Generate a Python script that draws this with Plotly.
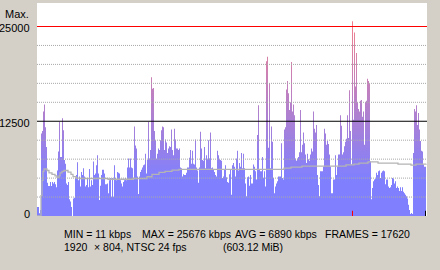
import plotly.graph_objects as go

# bitrate per display column (kbps)
bitrate = [
    1200, 1200, 350, 800, 10900, 11200, 13800, 14700, 11700, 9100,
    4400, 3950, 3950, 4500, 3950, 4500, 4300, 4500, 4200, 3800,
    6000, 8500, 12400, 7800, 7800, 12900, 11300, 7400, 6900, 4300,
    4100, 4500, 2200, 1900, 1200, 11, 2300, 2400, 5000, 5400,
    7100, 4700, 5200, 3900, 5800, 5400, 6300, 5200, 3900, 4100,
    5000, 3800, 6200, 3900, 4700, 4100, 7200, 5400, 5600, 6700,
    8000, 5600, 2100, 4000, 5400, 6100, 6100, 5600, 4200, 4200,
    4300, 3000, 4700, 5000, 2500, 5000, 2500, 6700, 5000, 4700,
    5800, 5700, 5600, 4700, 4300, 3900, 4500, 4700, 5000, 4700,
    6400, 7600, 6400, 7600, 6400, 6300, 4800, 11800, 9300, 8900,
    5200, 2900, 5200, 5800, 6100, 6400, 6700, 6800, 8200, 5600,
    7400, 12400, 7600, 8700, 18300, 16800, 16900, 11200, 10000, 7600,
    8200, 8900, 8700, 10000, 11300, 11800, 11700, 8700, 10100, 9700,
    8300, 8900, 9200, 9100, 11400, 8700, 8000, 11500, 10100, 8900,
    8900, 8700, 8900, 6400, 6300, 5200, 5500, 5400, 5400, 5700,
    6400, 6400, 7700, 8700, 6900, 8600, 6900, 6800, 10100, 6400,
    6000, 4400, 6400, 11100, 8900, 7400, 7300, 9100, 6300, 8000,
    7500, 10000, 7600, 11000, 6300, 6400, 6100, 5800, 5400, 5200,
    8600, 8000, 7500, 7400, 7300, 5000, 5200, 6100, 6700, 5100,
    4500, 4400, 5500, 6100, 2800, 6700, 7000, 6500, 5200, 7600,
    8600, 6000, 7000, 6500, 8300, 6300, 8200, 6300, 4300, 2600,
    5100, 5200, 4000, 5400, 4300, 4300, 6800, 6500, 5900, 4800,
    10700, 14600, 6100, 5900, 5900, 7800, 5000, 5900, 3900, 20400,
    21000, 9000, 17500, 6300, 11800, 9800, 5000, 3000, 3900, 4300,
    4600, 5200, 5200, 5200, 9600, 5000, 4800, 11400, 11700, 16700,
    17800, 16200, 14000, 15000, 20300, 13800, 14700, 13300, 7600, 7300,
    7600, 7800, 8400, 14000, 8400, 9400, 11000, 9600, 8100, 7000,
    8200, 7500, 7300, 8100, 8900, 8500, 13800, 11500, 11000, 12000,
    5400, 4100, 2600, 5900, 5900, 5900, 6500, 11500, 10900, 9400,
    9900, 9500, 8100, 6500, 3000, 3000, 4800, 4800, 8000, 5400,
    6500, 8100, 8100, 13300, 11900, 8100, 8400, 9200, 9800, 10200,
    13300, 10300, 16600, 11200, 6800, 25676, 12700, 24200, 17100, 21500,
    15000, 14100, 13800, 15200, 15300, 13100, 13800, 9400, 15000, 15200,
    18100, 17800, 17400, 7200, 2200, 3700, 4600, 4800, 4900, 5700,
    5400, 5900, 6000, 5000, 5700, 5900, 6000, 5900, 4200, 4800,
    4800, 3900, 3700, 3800, 4100, 5000, 4900, 4300, 4600, 3700,
    3900, 3700, 3300, 3800, 3300, 3800, 3200, 3000, 2800, 2600,
    2300, 1500, 800, 260, 400, 260, 8300, 14100, 13800, 14600,
    12000, 13600, 11400, 9900, 8600, 8500, 6800, 6500, 6500,
]

# running average line (column index, kbps)
avg_idx = [0, 4, 5, 6, 7, 10, 12, 15, 18, 20, 22, 23, 25, 27, 31, 34, 36, 39,
           43, 71, 96, 110, 115, 122, 128, 135, 142, 247, 254, 265, 309, 317,
           322, 331, 341, 361, 374, 379, 389]
avg_val = [0, 2700, 4700, 5900, 6200, 6000, 5700, 5500, 5300, 5100, 5300, 5700,
           5900, 6000, 5800, 5500, 5200, 5000, 4950, 4850, 4950, 5180, 5480,
           5750, 5880, 6050, 6140, 6320, 6450, 6580, 6750, 6840, 6970, 7150,
           6970, 6840, 6710, 6840, 6890]

grid_levels = [2500, 5000, 7500, 10000, 15000, 17500, 20000, 22500]
max_level = 25000
mid_level = 12500
y_labels = ["Max.", "25000", "12500", "0"]
stats_line1 = ["MIN = 11 kbps", "MAX = 25676 kbps", "AVG = 6890 kbps", "FRAMES = 17620"]
stats_line2 = ["1920", "\u00d7 804, NTSC 24 fps", "(603.12 MiB)"]

n = len(bitrate)
xs = [i - 0.5 for i in range(n)] + [n - 0.5]
ys = bitrate + [bitrate[-1]]

YMAX = 28100
FONT = "Liberation Sans"

fig = go.Figure()
fig.add_trace(go.Scatter(
    x=xs, y=ys, mode="lines", line=dict(width=0, shape="hv"),
    fill="tozeroy",
    fillgradient=dict(type="vertical", start=0, stop=YMAX,
                      colorscale=[[0, "#8080ff"], [0.17, "#8080ff"], [1, "#ff8080"]]),
    hoverinfo="skip", showlegend=False,
))
fig.add_trace(go.Scatter(
    x=[i - 0.5 for i in avg_idx], y=avg_val, mode="lines",
    line=dict(color="#b4b4b4", width=1.3, shape="hv"),
    hoverinfo="skip", showlegend=False,
))

shapes = []
for g in grid_levels:
    shapes.append(dict(type="line", xref="paper", x0=0, x1=1, yref="y", y0=g, y1=g,
                       line=dict(color="#a8a8a8", width=1, dash="1px,1px"), layer="above"))
shapes.append(dict(type="line", xref="paper", x0=0, x1=1, yref="y", y0=max_level, y1=max_level,
                   line=dict(color="#ff0000", width=1), layer="above"))
shapes.append(dict(type="line", xref="paper", x0=0, x1=1, yref="y", y0=mid_level, y1=mid_level,
                   line=dict(color="#000000", width=1), layer="above"))
imax = max(range(n), key=lambda i: bitrate[i])
shapes.append(dict(type="rect", xref="x", x0=imax - 0.5, x1=imax + 0.5, yref="y", y0=0, y1=700,
                   fillcolor="#ff0000", line=dict(width=0), layer="above"))
shapes.append(dict(type="rect", xref="x", x0=n - 1.5, x1=n - 0.5, yref="y", y0=0, y1=700,
                   fillcolor="#000000", line=dict(width=0), layer="above"))

L, R, T, B = 37, 427, 3, 216
def px(xp):
    return (xp - L) / (R - L)
def py(yp):
    return (B - yp) / (B - T)

ann = []
fnt = dict(family=FONT, size=11, color="#000000")
fnt_s = dict(family=FONT, size=10.5, color="#000000")
ann.append(dict(text=y_labels[0], xref="paper", yref="paper", x=px(30), y=py(14),
                xanchor="right", yanchor="middle", showarrow=False, font=fnt, borderpad=0))
for lab, val in zip(y_labels[1:], [max_level, mid_level, 0]):
    ann.append(dict(text=lab, xref="paper", yref="y", x=px(30.5), y=val, yshift=-1.5,
                    xanchor="right", yanchor="middle", showarrow=False, font=fnt, borderpad=0))
ann[-1]["yshift"] = 2
for txt, xp in zip(stats_line1, [62.5, 141, 234, 324]):
    ann.append(dict(text=txt, xref="paper", yref="paper", x=px(xp), y=py(233.5),
                    xanchor="left", yanchor="middle", showarrow=False, font=fnt_s, borderpad=0))
for txt, xp in zip(stats_line2, [62.5, 92.5, 222]):
    ann.append(dict(text=txt, xref="paper", yref="paper", x=px(xp), y=py(246.5),
                    xanchor="left", yanchor="middle", showarrow=False, font=fnt_s, borderpad=0))

fig.update_layout(
    width=440, height=270,
    margin=dict(l=L, r=440 - R, t=T, b=270 - B, pad=0),
    paper_bgcolor="#d4d0c8", plot_bgcolor="#ffffff",
    xaxis=dict(range=[-0.5, n + 0.5], showgrid=False, zeroline=False, showticklabels=False,
               ticks="", showline=False, fixedrange=True),
    yaxis=dict(range=[0, YMAX], showgrid=False, zeroline=False, showticklabels=False,
               ticks="", showline=False, fixedrange=True),
    shapes=shapes, annotations=ann, font=fnt,
)
fig.write_html("out.html", config={"displayModeBar": False})
